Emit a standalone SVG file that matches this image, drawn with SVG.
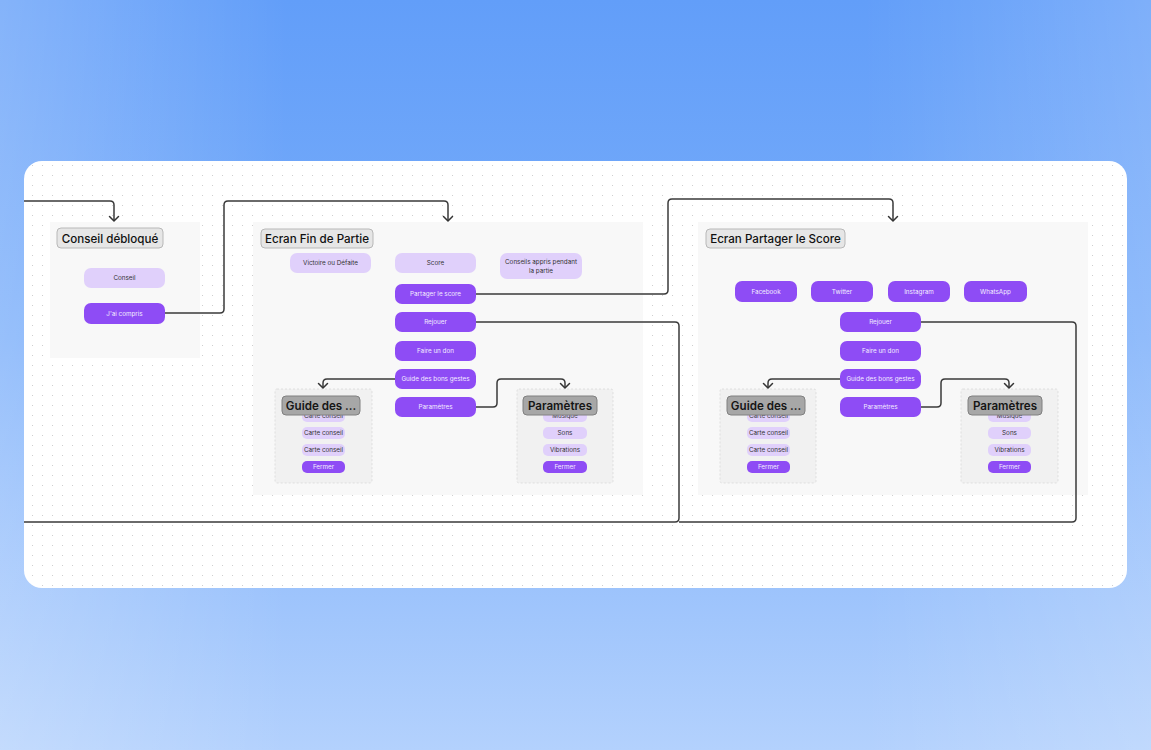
<svg xmlns="http://www.w3.org/2000/svg" width="1151" height="750" viewBox="0 0 1151 750">
<defs>
<linearGradient id="bg" x1="0" y1="0" x2="0" y2="1">
<stop offset="0" stop-color="#629ef9"/>
<stop offset="0.45" stop-color="#7aaefa"/>
<stop offset="1" stop-color="#b3d1fd"/>
</linearGradient>
<linearGradient id="side" x1="0" y1="0" x2="1" y2="0">
<stop offset="0" stop-color="#ffffff" stop-opacity="0.22"/>
<stop offset="0.25" stop-color="#ffffff" stop-opacity="0"/>
<stop offset="0.75" stop-color="#ffffff" stop-opacity="0"/>
<stop offset="1" stop-color="#ffffff" stop-opacity="0.18"/>
</linearGradient>
<pattern id="dots" x="2" y="5" width="10" height="10" patternUnits="userSpaceOnUse">
<circle cx="0.5" cy="0.5" r="0.6" fill="#cfcfcf"/>
</pattern>
<clipPath id="cardclip"><rect x="24" y="161" width="1103" height="427" rx="18"/></clipPath>
<marker id="arr" markerUnits="userSpaceOnUse" markerWidth="12" markerHeight="12" refX="6" refY="6" orient="auto" viewBox="0 0 12 12">
<path d="M1.5,1.5 L6,6 L1.5,10.5" fill="none" stroke="#333" stroke-width="1.5" stroke-linecap="round" stroke-linejoin="round"/>
</marker>
<style>
.frame{fill:#f8f8f8}
.sub{fill:#f1f1f1;stroke:#d9d9d9;stroke-width:0.8;stroke-dasharray:2 2}
.title{fill:#e6e6e6;stroke:#b8b8b8;stroke-width:1}
.ttl{font-family:Inter,"Noto Sans",sans-serif;font-size:11.6px;font-weight:500;fill:#111}
.subtitle{fill:#a7a7a7;stroke:#808080;stroke-width:1}
.stl{font-family:Inter,"Noto Sans",sans-serif;font-size:11.6px;font-weight:600;fill:#151515}
.lav{fill:#e0d0fb}
.pur{fill:#8e4cf5}
.tl{font-family:Inter,"Noto Sans",sans-serif;font-size:6.3px;fill:#333;text-anchor:middle}
.tw{font-family:Inter,"Noto Sans",sans-serif;font-size:6.3px;fill:#f4edff;text-anchor:middle}
.conn{fill:none;stroke:#3a3a3a;stroke-width:1.5}
</style>
</defs>
<rect width="1151" height="750" fill="url(#bg)"/>
<rect width="1151" height="750" fill="url(#side)"/>
<rect x="24" y="161" width="1103" height="427" rx="18" fill="#ffffff"/>
<rect x="24" y="161" width="1103" height="427" rx="18" fill="url(#dots)"/>

<g id="frame-conseil">
<rect class="frame" x="50" y="222" width="150" height="136"/>
<rect class="title" x="57" y="228" width="106" height="20" rx="4"/>
<text class="ttl" x="110" y="242.5" text-anchor="middle">Conseil débloqué</text>
<rect class="lav" x="84" y="268" width="81" height="20" rx="7"/>
<text class="tl" x="124.5" y="280.3">Conseil</text>
<rect class="pur" x="84" y="303" width="81" height="21" rx="7"/>
<text class="tw" x="124.5" y="315.8">J'ai compris</text>
</g>

<g id="frame-fin">
<rect class="frame" x="253" y="222" width="390" height="273"/>
<rect class="title" x="261" y="229" width="112" height="19" rx="4"/>
<text class="ttl" x="317" y="243" text-anchor="middle">Ecran Fin de Partie</text>
<rect class="lav" x="290" y="253" width="81" height="20" rx="7"/>
<text class="tl" x="330.5" y="265.3">Victoire ou Défaite</text>
<rect class="lav" x="395" y="253" width="81" height="20" rx="7"/>
<text class="tl" x="435.5" y="265.3">Score</text>
<rect class="lav" x="500" y="253" width="82" height="26" rx="7"/>
<text class="tl" x="541" y="263.5">Conseils appris pendant</text>
<text class="tl" x="541" y="272.5">la partie</text>
<rect class="pur" x="395" y="284" width="81" height="20" rx="7"/>
<text class="tw" x="435.5" y="296.3">Partager le score</text>
<rect class="pur" x="395" y="312" width="81" height="20" rx="7"/>
<text class="tw" x="435.5" y="324.3">Rejouer</text>
<rect class="pur" x="395" y="341" width="81" height="20" rx="7"/>
<text class="tw" x="435.5" y="353.3">Faire un don</text>
<rect class="pur" x="395" y="369" width="81" height="20" rx="7"/>
<text class="tw" x="435.5" y="381.3">Guide des bons gestes</text>
<rect class="pur" x="395" y="397" width="81" height="20" rx="7"/>
<text class="tw" x="435.5" y="409.3">Paramètres</text>
</g>

<g id="frame-fin-guide">
<rect class="sub" x="275" y="389" width="97" height="94" rx="2"/>
<rect class="lav" x="302" y="410" width="43" height="12" rx="5"/>
<text class="tl" x="323.5" y="418.3">Carte conseil</text>
<rect class="lav" x="302" y="427" width="43" height="12" rx="5"/>
<text class="tl" x="323.5" y="435.3">Carte conseil</text>
<rect class="lav" x="302" y="444" width="43" height="12" rx="5"/>
<text class="tl" x="323.5" y="452.3">Carte conseil</text>
<rect class="pur" x="302" y="461" width="43" height="12" rx="5"/>
<text class="tw" x="323.5" y="469.3">Fermer</text>
<rect class="subtitle" x="282" y="396" width="78" height="19" rx="4"/>
<text class="stl" x="321" y="410" text-anchor="middle">Guide des ...</text>
</g>

<g id="frame-fin-params">
<rect class="sub" x="517" y="389" width="96" height="94" rx="2"/>
<rect class="lav" x="543" y="410" width="44" height="12" rx="5"/>
<text class="tl" x="565" y="418.3">Musique</text>
<rect class="lav" x="543" y="427" width="44" height="12" rx="5"/>
<text class="tl" x="565" y="435.3">Sons</text>
<rect class="lav" x="543" y="444" width="44" height="12" rx="5"/>
<text class="tl" x="565" y="452.3">Vibrations</text>
<rect class="pur" x="543" y="461" width="44" height="12" rx="5"/>
<text class="tw" x="565" y="469.3">Fermer</text>
<rect class="subtitle" x="523" y="396" width="74" height="19" rx="4"/>
<text class="stl" x="560" y="410" text-anchor="middle">Paramètres</text>
</g>

<g id="frame-partager">
<rect class="frame" x="698" y="222" width="390" height="273"/>
<rect class="title" x="706" y="229" width="139" height="19" rx="4"/>
<text class="ttl" x="775.5" y="243" text-anchor="middle">Ecran Partager le Score</text>
<rect class="pur" x="735" y="281" width="62" height="21" rx="7"/>
<text class="tw" x="766" y="293.8">Facebook</text>
<rect class="pur" x="811" y="281" width="62" height="21" rx="7"/>
<text class="tw" x="842" y="293.8">Twitter</text>
<rect class="pur" x="888" y="281" width="62" height="21" rx="7"/>
<text class="tw" x="919" y="293.8">Instagram</text>
<rect class="pur" x="964" y="281" width="63" height="21" rx="7"/>
<text class="tw" x="995.5" y="293.8">WhatsApp</text>
<rect class="pur" x="840" y="312" width="81" height="20" rx="7"/>
<text class="tw" x="880.5" y="324.3">Rejouer</text>
<rect class="pur" x="840" y="341" width="81" height="20" rx="7"/>
<text class="tw" x="880.5" y="353.3">Faire un don</text>
<rect class="pur" x="840" y="369" width="81" height="20" rx="7"/>
<text class="tw" x="880.5" y="381.3">Guide des bons gestes</text>
<rect class="pur" x="840" y="397" width="81" height="20" rx="7"/>
<text class="tw" x="880.5" y="409.3">Paramètres</text>
</g>

<g id="frame-partager-guide">
<rect class="sub" x="720" y="389" width="96" height="94" rx="2"/>
<rect class="lav" x="747" y="410" width="43" height="12" rx="5"/>
<text class="tl" x="768.5" y="418.3">Carte conseil</text>
<rect class="lav" x="747" y="427" width="43" height="12" rx="5"/>
<text class="tl" x="768.5" y="435.3">Carte conseil</text>
<rect class="lav" x="747" y="444" width="43" height="12" rx="5"/>
<text class="tl" x="768.5" y="452.3">Carte conseil</text>
<rect class="pur" x="747" y="461" width="43" height="12" rx="5"/>
<text class="tw" x="768.5" y="469.3">Fermer</text>
<rect class="subtitle" x="727" y="396" width="78" height="19" rx="4"/>
<text class="stl" x="766" y="410" text-anchor="middle">Guide des ...</text>
</g>

<g id="frame-partager-params">
<rect class="sub" x="961" y="389" width="97" height="94" rx="2"/>
<rect class="lav" x="988" y="410" width="43" height="12" rx="5"/>
<text class="tl" x="1009.5" y="418.3">Musique</text>
<rect class="lav" x="988" y="427" width="43" height="12" rx="5"/>
<text class="tl" x="1009.5" y="435.3">Sons</text>
<rect class="lav" x="988" y="444" width="43" height="12" rx="5"/>
<text class="tl" x="1009.5" y="452.3">Vibrations</text>
<rect class="pur" x="988" y="461" width="43" height="12" rx="5"/>
<text class="tw" x="1009.5" y="469.3">Fermer</text>
<rect class="subtitle" x="968" y="396" width="74" height="19" rx="4"/>
<text class="stl" x="1005" y="410" text-anchor="middle">Paramètres</text>
</g>

<g id="connectors" clip-path="url(#cardclip)">
<path class="conn" d="M24,201 H110 Q114,201 114,205 V221" marker-end="url(#arr)"/>
<path class="conn" d="M165,313 H220 Q224,313 224,309 V205 Q224,201 228,201 H444 Q448,201 448,205 V221" marker-end="url(#arr)"/>
<path class="conn" d="M476,294 H664 Q668,294 668,290 V203 Q668,199 672,199 H889 Q893,199 893,203 V221" marker-end="url(#arr)"/>
<path class="conn" d="M476,322 H675 Q679,322 679,326 V518 Q679,522 675,522 H20"/>
<path class="conn" d="M921,322 H1072 Q1076,322 1076,326 V518 Q1076,522 1072,522 H679"/>
<path class="conn" d="M395,379 H327 Q323,379 323,383 V388" marker-end="url(#arr)"/>
<path class="conn" d="M476,407 H493 Q497,407 497,403 V383 Q497,379 501,379 H561 Q565,379 565,383 V388" marker-end="url(#arr)"/>
<path class="conn" d="M840,379 H772 Q768,379 768,383 V388" marker-end="url(#arr)"/>
<path class="conn" d="M921,407 H937 Q941,407 941,403 V383 Q941,379 945,379 H1005 Q1009,379 1009,383 V388" marker-end="url(#arr)"/>
</g>
</svg>
